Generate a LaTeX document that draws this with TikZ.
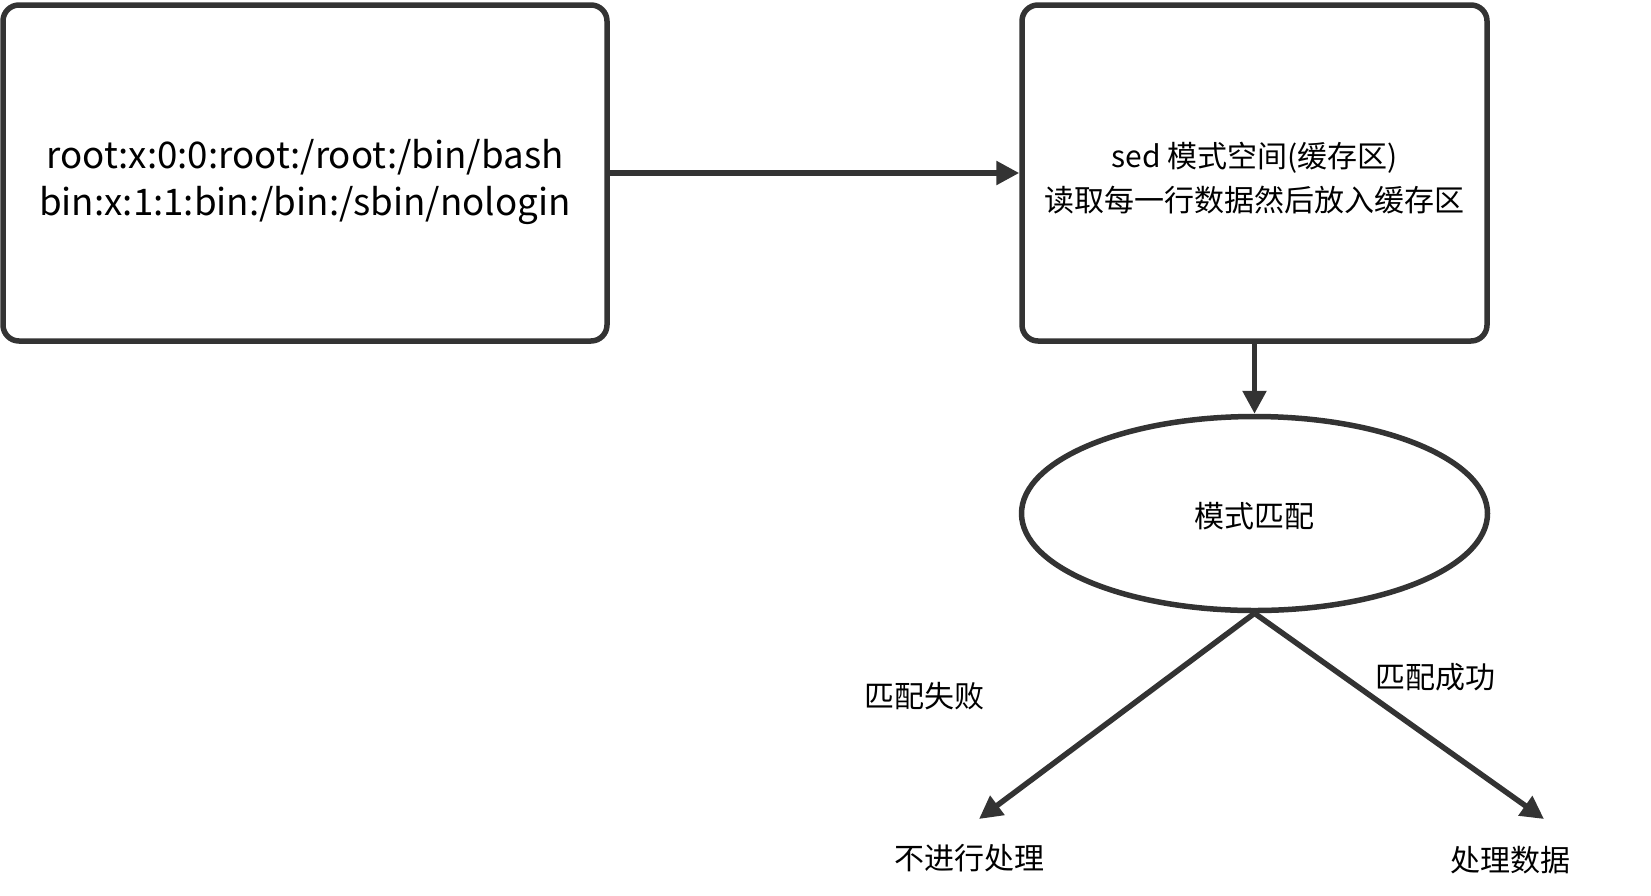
\documentclass[tikz,border=0pt]{standalone}
\usepackage{fontspec}
\setmainfont{Noto Sans CJK SC}
\usetikzlibrary{arrows.meta,shapes.geometric}
\definecolor{ink}{HTML}{333333}
\begin{document}
\begin{tikzpicture}[x=1pt,y=-1pt,
  box/.style={draw=ink,line width=5.5pt,rounded corners=16pt,fill=white,inner sep=0pt},
  oval/.style={draw=ink,line width=5.5pt,ellipse,fill=white,inner sep=0pt},
  body/.style={inner sep=0pt,align=center,text=black},
  label/.style={inner sep=0pt,text=black,font=\fontsize{30}{36}\selectfont},
  flow/.style={draw=ink,line width=5.5pt,-{Triangle[length=23pt,width=23pt]}}]
\useasboundingbox (0,0) rectangle (1651,895);

% input lines
\node[box,minimum width=604pt,minimum height=336pt] (input) at (305,173) {};
\node[body,font=\fontsize{36.7}{47}\selectfont] (inputtext)
  at ([yshift=-8.5pt]input.center)
  {root:x:0:0:root:/root:/bin/bash\\bin:x:1:1:bin:/bin:/sbin/nologin};

% pattern space
\node[box,minimum width=465pt,minimum height=336pt] (space) at (1254.5,173) {};
\node[body,font=\fontsize{30}{44}\selectfont] (spacetext)
  at ([yshift=-5.5pt]space.center)
  {sed 模式空间(缓存区)\\读取每一行数据然后放入缓存区};

% pattern match
\node[oval,minimum width=466pt,minimum height=194pt] (match) at (1254.5,513.5) {};
\node[label] (matchtext) at ([yshift=-3pt]match.center) {模式匹配};

% outcomes
\coordinate (failtip) at (979,819);
\coordinate (oktip) at (1544,819);
\node[label] (skip) at (969,858) {不进行处理};
\node[label] (handle) at (1510,860) {处理数据};
\node[label] (faillbl) at (924,696) {匹配失败};
\node[label] (oklbl) at (1435,677) {匹配成功};

\draw[flow] (input.east) -- (space.west);
\draw[flow] (space.south) -- (match.north);
\draw[flow] (match.south) -- (failtip);
\draw[flow] (match.south) -- (oktip);
\end{tikzpicture}
\end{document}
